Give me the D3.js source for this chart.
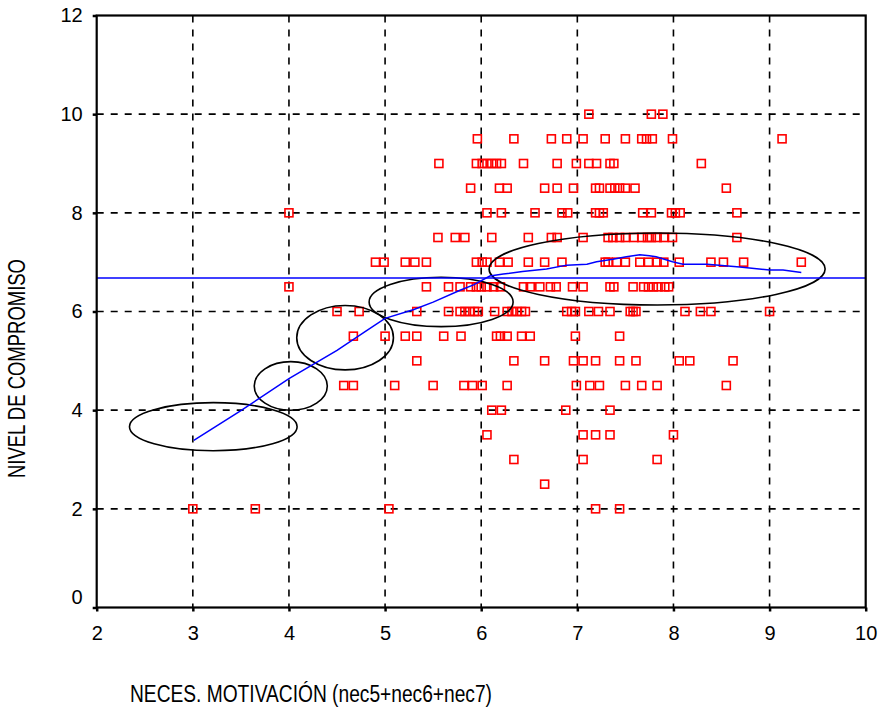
<!DOCTYPE html>
<html>
<head>
<meta charset="utf-8">
<script src="https://cdn.jsdelivr.net/npm/d3@7"></script>
<style>
  html, body { margin: 0; padding: 0; background: #fff; }
  svg { display: block; }
  text { font-family: "Liberation Sans", Arial, sans-serif; fill: #000; }
</style>
</head>
<body>
<svg id="chart" width="881" height="713"></svg>
<script>
// Axis ticks
const xTicks = [2, 3, 4, 5, 6, 7, 8, 9, 10];
const yTicks = [0, 2, 4, 6, 8, 10, 12];

// Observations, grouped by NIVEL DE COMPROMISO level: x = NECES. MOTIVACIÓN
const nivel10  = [7.12, 7.77, 7.89];
const nivel9_5 = [5.96, 6.34, 6.73, 6.89, 7.06, 7.29, 7.50, 7.67, 7.72, 7.78, 7.99, 9.13];
const nivel9   = [5.56, 5.95, 6.01, 6.06, 6.11, 6.16, 6.21, 6.44, 6.79, 6.99, 7.12, 7.20, 7.34, 7.38, 8.29];
const nivel8_5 = [5.89, 6.19, 6.27, 6.66, 6.79, 6.96, 7.19, 7.23, 7.34, 7.39, 7.44, 7.50, 7.60, 8.55];
const nivel8   = [4.00, 6.06, 6.21, 6.56, 6.84, 6.90, 7.19, 7.23, 7.27, 7.68, 7.77, 7.98, 8.02, 8.07, 8.66];
const nivel7_5 = [5.55, 5.73, 5.83, 6.11, 6.49, 6.73, 6.79, 7.06, 7.32, 7.37, 7.44, 7.50, 7.59, 7.67, 7.73, 7.77, 7.83, 7.90, 7.99, 8.66];
const nivel7   = [4.90, 4.99, 5.21, 5.31, 5.43, 5.95, 6.01, 6.06, 6.19, 6.28, 6.49, 6.66, 6.84, 7.29, 7.32, 7.41, 7.50, 7.65, 7.74, 7.83, 7.90, 8.06, 8.39, 8.52, 8.73, 9.33];
const nivel6_5 = [4.00, 5.43, 5.66, 5.78, 5.89, 5.95, 6.00, 6.06, 6.13, 6.20, 6.44, 6.51, 6.61, 6.72, 6.78, 6.95, 7.06, 7.34, 7.38, 7.58, 7.69, 7.74, 7.79, 7.84, 7.91, 7.95];
const nivel6   = [4.50, 4.73, 5.33, 5.66, 5.78, 5.83, 5.88, 5.93, 5.97, 6.14, 6.27, 6.32, 6.37, 6.42, 6.46, 6.89, 6.94, 6.98, 7.12, 7.22, 7.34, 7.55, 7.58, 7.61, 8.12, 8.28, 8.39, 9.00];
const nivel5_5 = [4.67, 5.00, 5.21, 5.33, 5.61, 5.79, 6.16, 6.20, 6.27, 6.42, 6.51, 6.98, 7.44];
const nivel5   = [5.33, 6.34, 6.66, 6.96, 7.06, 7.19, 7.44, 7.61, 8.06, 8.17, 8.62];
const nivel4_5 = [4.57, 4.67, 5.10, 5.50, 5.82, 5.91, 6.01, 6.27, 6.99, 7.13, 7.23, 7.50, 7.67, 7.83, 8.55];
const nivel4   = [6.11, 6.21, 6.88, 7.34];
const nivel3_5 = [6.06, 7.06, 7.19, 7.34, 8.00];
const nivel3   = [6.34, 7.06, 7.83];
const nivel2_5 = [6.66];
const nivel2   = [3.00, 3.65, 5.04, 7.19, 7.44];

const levelValues = [10, 9.5, 9, 8.5, 8, 7.5, 7, 6.5, 6, 5.5, 5, 4.5, 4, 3.5, 3, 2.5, 2];
const levelRows = [nivel10, nivel9_5, nivel9, nivel8_5, nivel8, nivel7_5, nivel7, nivel6_5,
                   nivel6, nivel5_5, nivel5, nivel4_5, nivel4, nivel3_5, nivel3, nivel2_5, nivel2];

// Mean of NIVEL DE COMPROMISO
const mediaCompromiso = 6.68;

// Smoothed trend (x, y)
const suavX = [3.01, 3.50, 4.00, 4.50, 4.80, 5.00, 5.30, 5.50, 5.78, 5.92, 6.09, 6.23, 6.43, 6.68, 6.89, 7.10, 7.20, 7.37, 7.51, 7.65, 7.75, 7.82, 7.99, 8.10, 8.35, 8.69, 9.00, 9.14, 9.33];
const suavY = [3.39, 3.99, 4.64, 5.21, 5.60, 5.86, 6.04, 6.19, 6.43, 6.54, 6.72, 6.76, 6.81, 6.86, 6.94, 6.96, 7.01, 7.06, 7.11, 7.15, 7.13, 7.11, 7.01, 6.96, 6.96, 6.90, 6.84, 6.84, 6.79];

// Ellipses around point groups: centre and radii in data units
const elipCx = [3.213, 4.019, 4.584, 5.583, 7.83];
const elipCy = [3.665, 4.49, 5.469, 6.193, 6.862];
const elipRx = [0.872, 0.380, 0.503, 0.749, 1.748];
const elipRy = [0.487, 0.493, 0.653, 0.500, 0.730];

const svg = d3.select("#chart");

const x = d3.scaleLinear().domain([2, 10]).range([96.7, 865.7]);
const y = d3.scaleLinear().domain([0, 12]).range([607.5, 15.5]);

const [x0, x1] = x.range();
const [y0, y1] = y.range();

// Dashed grid
const grid = svg.append("g").attr("stroke", "#000").attr("stroke-width", 1.6)
  .attr("stroke-dasharray", "7,7");
grid.selectAll("line.v").data(xTicks.slice(1, -1)).join("line")
  .attr("x1", d => x(d)).attr("x2", d => x(d)).attr("y1", y1).attr("y2", y0);
grid.selectAll("line.h").data(yTicks.slice(1, -1)).join("line")
  .attr("y1", d => y(d)).attr("y2", d => y(d)).attr("x1", x0).attr("x2", x1);

// Scatter points
const points = [];
levelValues.forEach((lv, i) => levelRows[i].forEach(v => points.push([v, lv])));
const s = 8;
svg.append("g").selectAll("rect").data(points).join("rect")
  .attr("x", d => x(d[0]) - s / 2).attr("y", d => y(d[1]) - s / 2)
  .attr("width", s).attr("height", s)
  .attr("fill", "none").attr("stroke", "#ff0000").attr("stroke-width", 1.6);

// Ellipses
svg.append("g").selectAll("ellipse").data(elipCx).join("ellipse")
  .attr("cx", (d, i) => x(d)).attr("cy", (d, i) => y(elipCy[i]))
  .attr("rx", (d, i) => x(2 + elipRx[i]) - x(2))
  .attr("ry", (d, i) => y(0) - y(elipRy[i]))
  .attr("fill", "none").attr("stroke", "#000").attr("stroke-width", 1.6);

// Mean line
svg.append("line")
  .attr("x1", x0).attr("x2", x1)
  .attr("y1", y(mediaCompromiso)).attr("y2", y(mediaCompromiso))
  .attr("stroke", "#0000ff").attr("stroke-width", 1.5);

// Smoothed trend
svg.append("path")
  .datum(suavX.map((v, i) => [v, suavY[i]]))
  .attr("d", d3.line().x(d => x(d[0])).y(d => y(d[1])))
  .attr("fill", "none").attr("stroke", "#0000ff").attr("stroke-width", 1.5);

// Axes
const xAxis = svg.append("g").attr("transform", `translate(0,${y0})`)
  .call(d3.axisBottom(x).tickValues(xTicks).tickSize(4).tickPadding(14).tickFormat(d3.format("d")));
const yAxis = svg.append("g").attr("transform", `translate(${x0},0)`)
  .call(d3.axisLeft(y).tickValues(yTicks).tickSize(4).tickPadding(10).tickFormat(d3.format("d")));
[xAxis, yAxis].forEach(g => {
  g.select(".domain").remove();
  g.selectAll(".tick line").attr("stroke", "#000").attr("stroke-width", 2.5);
  g.selectAll(".tick text").attr("font-size", 20).attr("font-family", "Liberation Sans, Arial, sans-serif");
});
// the 0 label sits a little above the corner
yAxis.selectAll(".tick text").filter(d => d === 0).attr("dy", "-0.22em");

// Frame
svg.append("rect")
  .attr("x", x0).attr("y", y1).attr("width", x1 - x0).attr("height", y0 - y1)
  .attr("fill", "none").attr("stroke", "#000").attr("stroke-width", 2.2);

// Axis titles
svg.append("text")
  .attr("x", 130).attr("y", 702)
  .attr("font-size", 23)
  .attr("textLength", 362).attr("lengthAdjust", "spacingAndGlyphs")
  .text("NECES. MOTIVACIÓN (nec5+nec6+nec7)");
svg.append("text")
  .attr("transform", "translate(25,478) rotate(-90)")
  .attr("font-size", 23)
  .attr("textLength", 219).attr("lengthAdjust", "spacingAndGlyphs")
  .text("NIVEL DE COMPROMISO");
</script>
</body>
</html>
